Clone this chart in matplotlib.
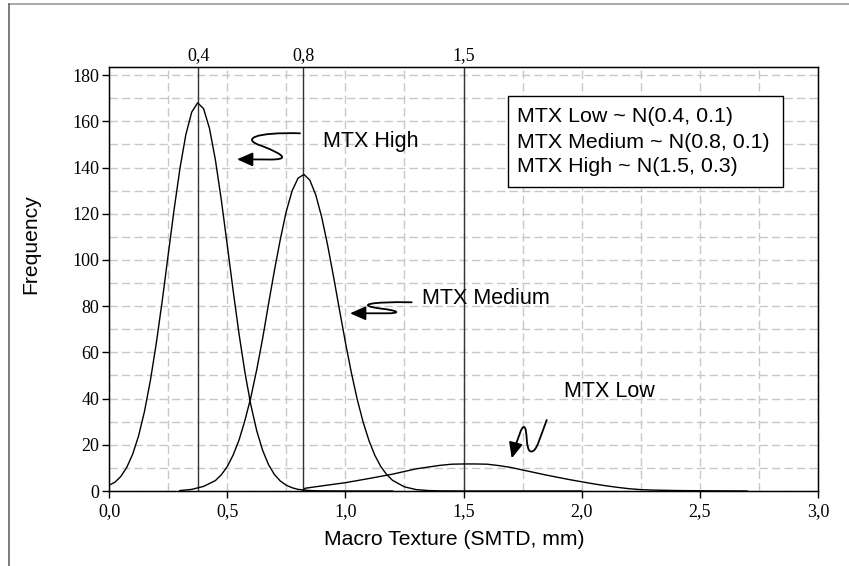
import matplotlib
matplotlib.use('Agg')
import matplotlib.pyplot as plt
from matplotlib.path import Path
from matplotlib.patches import FancyArrowPatch, Rectangle
from matplotlib.lines import Line2D
from matplotlib.ticker import MultipleLocator

SERIF = 'Liberation Serif'
SANS = 'Liberation Sans'

# ---------------- data ----------------
x_high = [0.0, 0.025, 0.05, 0.075, 0.1, 0.125, 0.15, 0.175, 0.2, 0.225, 0.25,
          0.275, 0.3, 0.325, 0.35, 0.375, 0.4, 0.425, 0.45, 0.475, 0.5, 0.525,
          0.55, 0.575, 0.6, 0.625, 0.65, 0.675, 0.7, 0.725, 0.75, 0.775, 0.8,
          0.825, 0.85, 0.875, 0.9, 1.0, 1.2]
y_high = [2.5, 3.8, 6.3, 10.2, 15.9, 23.8, 34.4, 47.8, 63.9, 82.2, 101.9,
          121.5, 139.5, 154.2, 164.0, 168.0, 165.5, 157.0, 143.4, 126.1, 106.7, 86.9,
          68.1, 51.4, 37.3, 26.1, 17.6, 11.4, 7.1, 4.3, 2.5, 1.4, 0.7,
          0.4, 0.2, 0.1, 0.05, 0.0, 0.0]

x_medium = [0.3, 0.35, 0.4, 0.45, 0.475, 0.5, 0.525, 0.55, 0.575, 0.6, 0.625,
            0.65, 0.675, 0.7, 0.725, 0.75, 0.775, 0.8, 0.825, 0.85, 0.875, 0.9,
            0.925, 0.95, 0.975, 1.0, 1.025, 1.05, 1.075, 1.1, 1.125, 1.15, 1.175,
            1.2, 1.25, 1.3, 1.35, 1.4, 1.5, 2.0]
y_medium = [0.2, 0.7, 2.0, 4.5, 7.0, 10.5, 15.5, 22.0, 30.5, 40.5, 52.5,
            66.0, 81.0, 95.5, 109.0, 121.0, 130.0, 135.4, 137.0, 134.5, 128.1, 118.5,
            106.4, 92.8, 78.5, 64.5, 51.4, 39.8, 29.9, 21.8, 15.4, 10.6, 7.1,
            4.6, 1.8, 0.6, 0.2, 0.05, 0.0, 0.0]

x_low = [0.82, 0.83, 0.9, 1.0, 1.1, 1.2, 1.3, 1.4, 1.45, 1.5, 1.55, 1.6, 1.65,
         1.7, 1.75, 1.8, 1.85, 1.9, 1.95, 2.0, 2.05, 2.1, 2.15, 2.2, 2.25, 2.3,
         2.4, 2.5, 2.6, 2.7]
y_low = [0.0, 1.2, 2.2, 3.6, 5.4, 7.3, 9.6, 11.1, 11.6, 11.7, 11.7, 11.6, 11.0,
         10.2, 9.1, 8.0, 6.9, 5.9, 4.9, 4.0, 3.1, 2.3, 1.6, 1.0, 0.6, 0.4,
         0.2, 0.1, 0.05, 0.0]

peak_pos = [0.378, 0.822, 1.5]
peak_labels = ['0,4', '0,8', '1,5']

x_ticks = [0.0, 0.5, 1.0, 1.5, 2.0, 2.5, 3.0]
x_ticklabels = ['0,0', '0,5', '1,0', '1,5', '2,0', '2,5', '3,0']
y_ticks = [0, 20, 40, 60, 80, 100, 120, 140, 160, 180]
y_ticklabels = ['0', '20', '40', '60', '80', '100', '120', '140', '160', '180']

legend_lines = ['MTX Low ~ N(0.4, 0.1)',
                'MTX Medium ~ N(0.8, 0.1)',
                'MTX High ~ N(1.5, 0.3)']

x_label = 'Macro Texture (SMTD, mm)'
y_label = 'Frequency'

# ---------------- figure ----------------
fig = plt.figure(figsize=(8.49, 5.66), dpi=100)
ax = fig.add_axes([0.1284, 0.1325, 0.8351, 0.7491])
ax.set_xlim(0, 3.0)
ax.set_ylim(0, 183.5)

ax.xaxis.set_minor_locator(MultipleLocator(0.25))
ax.yaxis.set_minor_locator(MultipleLocator(10))
ax.set_axisbelow(True)
ax.grid(which='both', color='#c8c8c8', linestyle=(0, (6, 3)), linewidth=1.0)
ax.tick_params(which='minor', length=0)
ax.tick_params(which='major', direction='out', length=5, width=1.0, pad=2,
               colors='black')
ax.tick_params(axis='x', which='major', pad=4)

ax.set_xticks(x_ticks)
ax.set_xticklabels(x_ticklabels, fontfamily=SERIF, fontsize=13)
ax.set_yticks(y_ticks)
ax.set_yticklabels(y_ticklabels, fontfamily=SERIF, fontsize=13)

for sp in ax.spines.values():
    sp.set_linewidth(1.0)
    sp.set_color('black')

# top axis with the three mean positions
ax2 = ax.twiny()
ax2.set_xlim(ax.get_xlim())
ax2.set_xticks(peak_pos)
ax2.set_xticklabels(peak_labels, fontfamily=SERIF, fontsize=13)
ax2.tick_params(length=0, pad=2)

for p in peak_pos:
    ax.axvline(p, color='#333333', lw=1.0, zorder=2)

ax.plot(x_high, y_high, color='black', lw=1.0, zorder=3)
ax.plot(x_medium, y_medium, color='black', lw=1.0, zorder=3)
ax.plot(x_low, y_low, color='black', lw=1.0, zorder=3)

ax.set_xlabel(x_label, fontfamily=SANS, fontsize=15.2)
ax.set_ylabel(y_label, fontfamily=SANS, fontsize=15.2)
ax.xaxis.label.set_va('center')
ax.yaxis.label.set_va('center')
ax.xaxis.set_label_coords(0.487, -0.115)
ax.yaxis.set_label_coords(-0.110, 0.583)

# legend-like box
ax.add_patch(Rectangle((0.5628, 0.7177), 0.3874, 0.2146, transform=ax.transAxes,
                       facecolor='white', edgecolor='black', lw=1.0, zorder=5))
for txt, yy in zip(legend_lines, [0.8828, 0.8215, 0.7649]):
    ax.text(0.5755, yy, txt, transform=ax.transAxes, ha='left', va='center',
            fontfamily=SANS, fontsize=15.4, zorder=6)

# annotations
ax.text(0.905, 151.1, 'MTX High', ha='left', va='center', fontfamily=SANS,
        fontsize=15.5, zorder=6)
ax.text(1.325, 83.4, 'MTX Medium', ha='left', va='center', fontfamily=SANS,
        fontsize=15.5, zorder=6)
ax.text(1.926, 43.0, 'MTX Low', ha='left', va='center', fontfamily=SANS,
        fontsize=15.5, zorder=6)

C4, M, L = Path.CURVE4, Path.MOVETO, Path.LINETO


def squiggle(verts, codes):
    arr = FancyArrowPatch(path=Path(verts, codes),
                          arrowstyle='-|>,head_length=0.95,head_width=0.42',
                          mutation_scale=10, color='black', lw=1.3,
                          shrinkA=0, shrinkB=0, zorder=6)
    ax.add_patch(arr)


squiggle([(0.8082, 154.81),
          (0.6178, 155.37), (0.5543, 152.34), (0.6474, 149.31),
          (0.7447, 145.42), (0.7659, 143.25), (0.6728, 143.47),
          (0.5416, 143.56)],
         [M, C4, C4, C4, C4, C4, C4, L])

squiggle([(1.2808, 81.67),
          (1.1044, 82.01), (1.0409, 80.50), (1.1467, 79.00),
          (1.2229, 78.12), (1.2440, 76.82), (1.1679, 76.91),
          (1.0198, 76.91)],
         [M, C4, C4, C4, C4, C4, C4, L])

squiggle([(1.8521, 30.73),
          (1.8237, 23.37), (1.8110, 16.88), (1.7856, 17.10),
          (1.7602, 17.31), (1.7729, 27.27), (1.7560, 27.70),
          (1.7433, 27.91), (1.7348, 22.94), (1.7179, 19.48),
          (1.7040, 14.15)],
         [M, C4, C4, C4, C4, C4, C4, C4, C4, C4, L])

# figure frame fragments
fig.add_artist(Line2D([9.3 / 849, 1.0], [1 - 4 / 566, 1 - 4 / 566],
                      transform=fig.transFigure, color='#999999', lw=1.2))
fig.add_artist(Line2D([9.3 / 849, 9.3 / 849], [0.0, 1 - 4 / 566],
                      transform=fig.transFigure, color='#666666', lw=1.2))

fig.savefig('out.png', dpi=100)
